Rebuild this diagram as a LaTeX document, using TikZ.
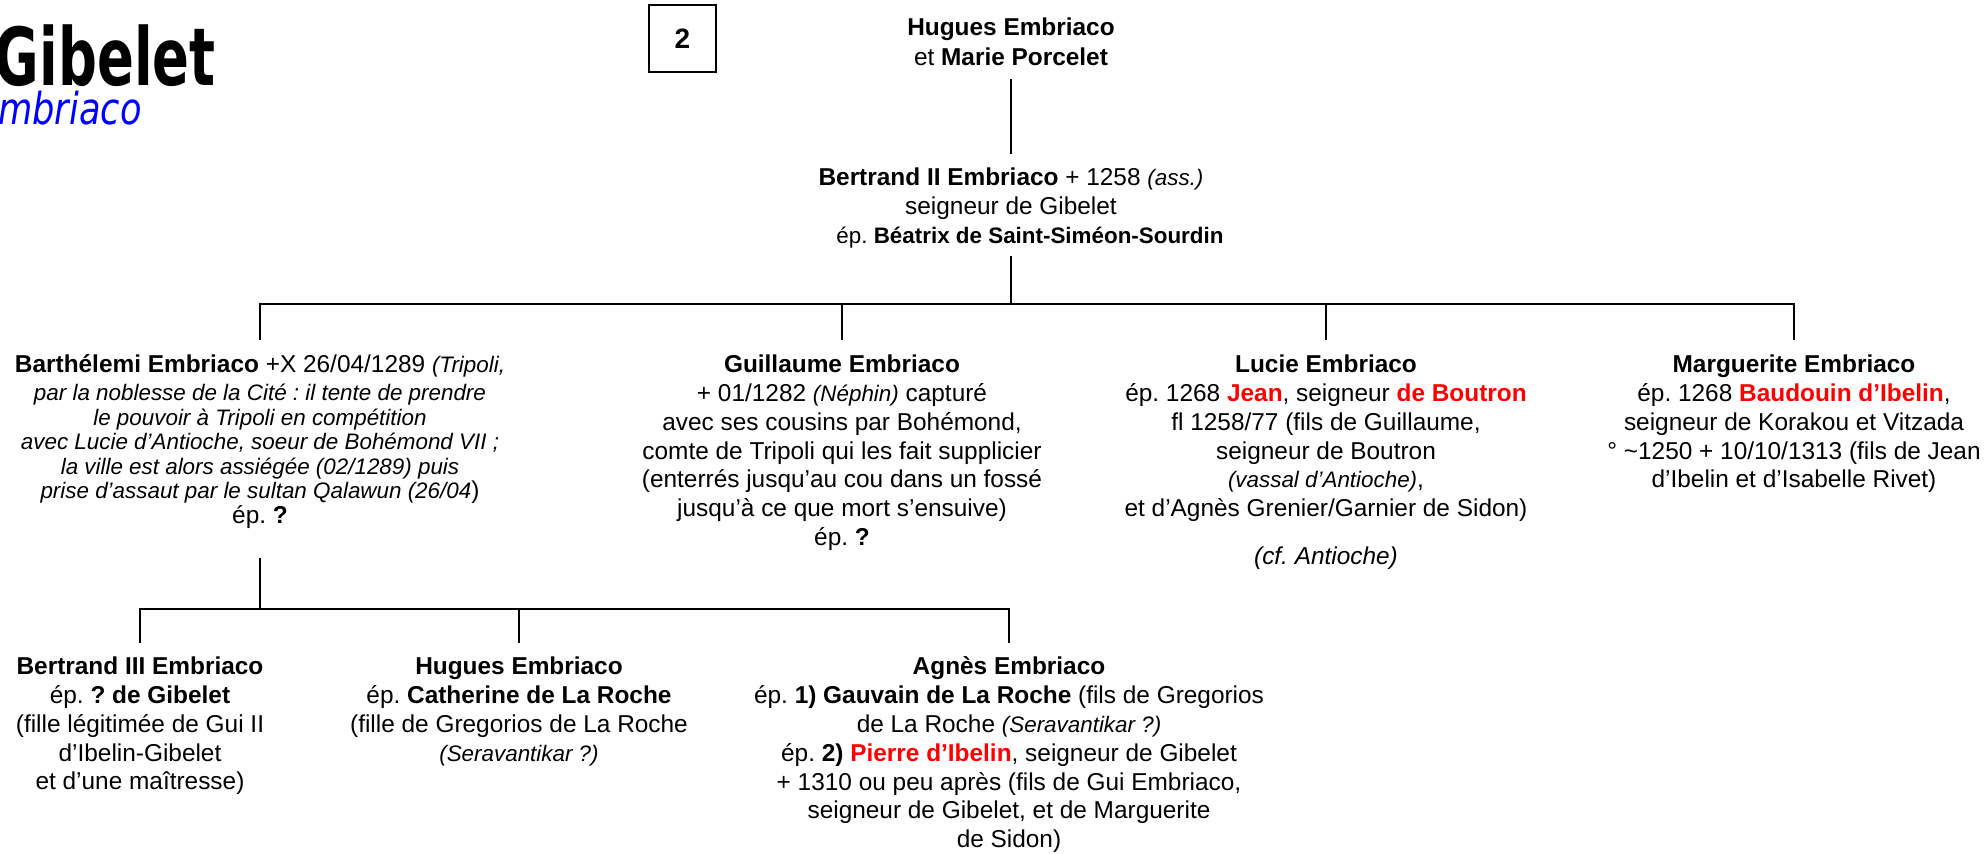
\documentclass[tikz,border=0pt]{standalone}
\usepackage{fontspec}
\setmainfont{Liberation Sans}
\newfontfamily\titlefont[FakeStretch=0.68]{DejaVu Sans}
\newfontfamily\soustitrefont[FakeStretch=0.8]{DejaVu Sans}
\usepackage{tikz}
\usetikzlibrary{positioning,calc}
\frenchspacing

\tikzset{
  person/.style={align=center, inner sep=0pt, outer sep=0pt, anchor=north,
    font=\fontsize{12.2}{14.4}\selectfont},
  lien/.style={line width=1.1pt},
}
\newcommand{\rouge}[1]{\textcolor{red}{\textbf{#1}}}
\newcommand{\petit}[1]{{\fontsize{11.2}{13}\selectfont\itshape #1}}

\begin{document}
\begin{tikzpicture}[x=0.5pt,y=-0.5pt]
  \useasboundingbox (0,0) rectangle (1988,853);
  \clip (0,0) rectangle (1988,853);

  \node[anchor=base east, inner sep=0pt, font=\titlefont\fontsize{40}{42}\selectfont\bfseries] (titre) at (216,85) {Gibelet};
  \node[anchor=base east, inner sep=0pt, text=blue, font=\soustitrefont\fontsize{22}{26}\selectfont\itshape] (soustitre) at (142,124) {Embriaco};
  \node[draw, line width=0.8pt, minimum size=33.5pt, inner sep=0pt, font=\fontsize{14}{16}\selectfont\bfseries] (numero) at (682.5,38.5) {2};

  \node[person] (hugues) at (1011,18) {\textbf{Hugues Embriaco}\\[0.6pt] et \textbf{Marie Porcelet}};
  \node[person] (bertrand) at (1011,168) {\textbf{Bertrand II Embriaco} + 1258 \petit{(ass.)}\\ seigneur de Gibelet\\
    \hspace*{19pt}{\fontsize{11.2}{13}\selectfont ép. \textbf{Béatrix de Saint-Siméon-Sourdin}}};

  \node[person] (barth) at (260,355) {\textbf{Barthélemi Embriaco} +X 26/04/1289 \petit{(Tripoli,}\\[-0.6pt]
    \petit{par la noblesse de la Cité : il tente de prendre}\\[-2.1pt]
    \petit{le pouvoir à Tripoli en compétition}\\[-2.1pt]
    \petit{avec Lucie d’Antioche, soeur de Bohémond VII ;}\\[-2.1pt]
    \petit{la ville est alors assiégée (02/1289) puis}\\[-2.1pt]
    \petit{prise d’assaut par le sultan Qalawun (26/04})\\[-2.1pt]
    ép. \textbf{?}};
  \node[person] (guill) at (842,355) {\textbf{Guillaume Embriaco}\\
    + 01/1282 \petit{(Néphin)} capturé\\
    avec ses cousins par Bohémond,\\
    comte de Tripoli qui les fait supplicier\\
    (enterrés jusqu’au cou dans un fossé\\
    jusqu’à ce que mort s’ensuive)\\
    ép. \textbf{?}};
  \node[person] (lucie) at (1326,355) {\textbf{Lucie Embriaco}\\
    ép. 1268 \rouge{Jean}, seigneur \rouge{de Boutron}\\
    fl 1258/77 (fils de Guillaume,\\
    seigneur de Boutron\\
    \petit{(vassal d’Antioche)},\\
    et d’Agnès Grenier/Garnier de Sidon)\\[9.6pt]
    \textit{(cf. Antioche)}};
  \node[person] (marg) at (1794,355) {\textbf{Marguerite Embriaco}\\
    ép. 1268 \rouge{Baudouin d’Ibelin},\\
    seigneur de Korakou et Vitzada\\
    ° \textasciitilde 1250 + 10/10/1313 (fils de Jean\\
    d’Ibelin et d’Isabelle Rivet)};

  \node[person] (bert3) at (140,657) {\textbf{Bertrand III Embriaco}\\
    ép. \textbf{? de Gibelet}\\
    (fille légitimée de Gui II\\
    d’Ibelin-Gibelet\\
    et d’une maîtresse)};
  \node[person] (hug2) at (519,657) {\textbf{Hugues Embriaco}\\
    ép. \textbf{Catherine de La Roche}\\
    (fille de Gregorios de La Roche\\
    \petit{(Seravantikar ?)}};
  \node[person] (agnes) at (1009,657) {\textbf{Agnès Embriaco}\\
    ép. \textbf{1) Gauvain de La Roche} (fils de Gregorios\\
    de La Roche \petit{(Seravantikar ?)}\\
    ép. \textbf{2)} \rouge{Pierre d’Ibelin}, seigneur de Gibelet\\
    + 1310 ou peu après (fils de Gui Embriaco,\\
    seigneur de Gibelet, et de Marguerite\\
    de Sidon)};

  \coordinate (j1) at (1011,304);
  \coordinate (j2) at (260,609);

  \draw[lien, shorten <=6.5pt, shorten >=7pt] (hugues) -- (bertrand);
  \draw[lien, shorten <=4pt] (bertrand) -- (j1);
  \draw[lien, shorten <=7.5pt, shorten >=7.5pt] (barth) |- (j1) -| (marg);
  \draw[lien, shorten >=7.5pt] (j1) -| (guill);
  \draw[lien, shorten >=7.5pt] (j1) -| (lucie);
  \draw[lien, shorten <=14.5pt] (barth) -- (j2);
  \draw[lien, shorten <=7pt, shorten >=7pt] (bert3) |- (j2) -| (agnes);
  \draw[lien, shorten >=7pt] (j2) -| (hug2);
\end{tikzpicture}
\end{document}
